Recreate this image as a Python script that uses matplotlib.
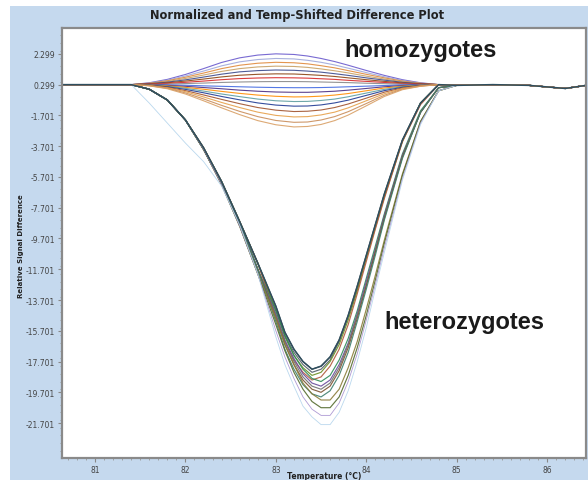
import matplotlib
matplotlib.use('Agg')
import matplotlib.pyplot as plt
from matplotlib.patches import Rectangle
from matplotlib.ticker import MultipleLocator

# ---------------- data ----------------
# homozygote curves sampled on these temperatures
temps = [80.64, 81.0, 81.4, 81.6, 81.8, 82.0, 82.2, 82.4, 82.6, 82.8, 83.0, 83.2,
         83.35, 83.5, 83.65, 83.8, 84.0, 84.2, 84.4, 84.6, 84.8, 85.0, 85.4,
         85.8, 86.2, 86.43]
# heterozygote curves sampled on these temperatures
het_temps = [80.64, 81.0, 81.4, 81.6, 81.8, 82.0, 82.2, 82.4, 82.6, 82.8, 83.0,
             83.1, 83.2, 83.3, 83.4, 83.5, 83.6, 83.7, 83.8, 83.9, 84.0, 84.1,
             84.2, 84.4, 84.6, 84.8, 85.0, 85.4, 85.8, 86.2, 86.43]
left_base = [0.3, 0.3, 0.3]
right_base = [0.25, 0.3, 0.25, 0.05, 0.25]

# heterozygotes: values at 81.6 ... 84.8
het_curves = {
    '#3c3c3c': [0.0, -0.7, -2.0, -3.8, -6.0, -8.6, -11.3, -14.1, -15.8, -16.9, -17.7, -18.2, -18.0, -17.4, -16.3, -14.7, -12.8, -10.8, -8.8, -6.8, -3.3, -0.9, 0.3],
    '#4f5b66': [0.0, -0.7, -2.0, -3.8, -6.0, -8.6, -11.3, -14.3, -16.0, -17.1, -17.9, -18.4, -18.2, -17.6, -16.4, -14.8, -13.0, -10.9, -8.9, -6.9, -3.3, -0.9, 0.3],
    '#6b8e23': [0.0, -0.7, -2.0, -3.8, -6.0, -8.6, -11.3, -14.4, -16.1, -17.3, -18.1, -18.6, -18.4, -17.7, -16.6, -15.0, -13.1, -11.0, -9.0, -7.0, -3.4, -0.9, 0.3],
    '#b05a3c': [0.0, -0.7, -2.0, -3.8, -6.0, -8.6, -11.3, -14.7, -16.4, -17.6, -18.4, -18.9, -18.7, -18.0, -16.9, -15.3, -13.3, -11.2, -9.1, -7.1, -3.4, -1.0, 0.3],
    '#2e8b57': [0.0, -0.7, -2.0, -3.9, -6.1, -8.7, -11.7, -14.4, -16.0, -17.3, -18.2, -18.8, -19.0, -18.6, -17.6, -16.2, -14.4, -12.3, -10.2, -8.1, -4.2, -1.4, 0.1],
    '#6a4c9c': [0.0, -0.7, -2.0, -3.9, -6.1, -8.7, -11.7, -14.6, -16.3, -17.5, -18.5, -19.1, -19.3, -18.9, -17.9, -16.5, -14.6, -12.5, -10.4, -8.2, -4.3, -1.5, 0.1],
    '#707070': [0.0, -0.7, -2.0, -3.9, -6.1, -8.7, -11.7, -14.7, -16.4, -17.7, -18.7, -19.3, -19.5, -19.1, -18.1, -16.6, -14.7, -12.7, -10.5, -8.3, -4.4, -1.5, 0.1],
    '#7a5230': [0.0, -0.7, -2.0, -3.9, -6.1, -8.7, -11.7, -14.9, -16.6, -17.9, -18.9, -19.5, -19.7, -19.3, -18.3, -16.8, -14.9, -12.8, -10.6, -8.4, -4.4, -1.5, 0.1],
    '#3f7f6f': [0.0, -0.7, -2.0, -3.9, -6.1, -8.7, -11.7, -15.1, -16.9, -18.2, -19.2, -19.8, -20.0, -19.6, -18.6, -17.1, -15.1, -13.0, -10.8, -8.5, -4.5, -1.5, 0.1],
    '#8b7d3a': [0.0, -0.7, -2.0, -3.9, -6.2, -8.9, -12.0, -14.9, -16.6, -17.9, -19.1, -19.8, -20.2, -20.2, -19.5, -18.1, -16.4, -14.3, -12.1, -9.8, -5.5, -2.1, -0.1],
    '#556b2f': [0.0, -0.7, -2.0, -3.9, -6.2, -8.9, -12.0, -15.3, -17.0, -18.4, -19.5, -20.3, -20.7, -20.7, -20.0, -18.6, -16.8, -14.7, -12.4, -10.0, -5.6, -2.1, -0.1],
    '#a58fcf': [0.0, -0.7, -2.0, -3.9, -6.2, -8.9, -12.0, -15.7, -17.4, -18.8, -20.0, -20.8, -21.2, -21.2, -20.4, -19.0, -17.2, -15.0, -12.7, -10.3, -5.8, -2.2, -0.1],
    '#b3d4ec': [-0.9, -2.2, -3.5, -4.7, -6.3, -8.8, -12.0, -16.1, -17.9, -19.3, -20.6, -21.3, -21.8, -21.8, -21.0, -19.6, -17.7, -15.5, -13.0, -10.6, -5.9, -2.3, -0.1],
}

# homozygotes: values at 81.6 ... 84.8
homo_curves = {
    '#6a5acd': [0.42, 0.64, 0.96, 1.34, 1.74, 2.04, 2.22, 2.3, 2.26, 2.16, 2.0, 1.8, 1.56, 1.22, 0.9, 0.62, 0.42, 0.3],
    '#9fa8da': [0.40, 0.59, 0.86, 1.18, 1.52, 1.78, 1.93, 2.0, 1.97, 1.88, 1.75, 1.58, 1.37, 1.08, 0.81, 0.57, 0.40, 0.3],
    '#e08a3c': [0.39, 0.55, 0.78, 1.05, 1.34, 1.56, 1.69, 1.75, 1.72, 1.65, 1.53, 1.39, 1.21, 0.97, 0.74, 0.53, 0.39, 0.3],
    '#c8a165': [0.37, 0.50, 0.70, 0.92, 1.16, 1.34, 1.45, 1.5, 1.48, 1.42, 1.32, 1.2, 1.06, 0.85, 0.66, 0.49, 0.37, 0.3],
    '#3b4a8c': [0.36, 0.46, 0.61, 0.79, 0.98, 1.13, 1.21, 1.25, 1.23, 1.18, 1.11, 1.01, 0.90, 0.74, 0.59, 0.45, 0.36, 0.3],
    '#8b4513': [0.34, 0.42, 0.53, 0.66, 0.80, 0.91, 0.97, 1.0, 0.99, 0.95, 0.90, 0.83, 0.74, 0.62, 0.51, 0.41, 0.34, 0.3],
    '#d62728': [0.33, 0.38, 0.45, 0.53, 0.62, 0.69, 0.73, 0.75, 0.74, 0.72, 0.68, 0.64, 0.58, 0.51, 0.44, 0.37, 0.33, 0.3],
    '#888888': [0.31, 0.33, 0.37, 0.40, 0.44, 0.47, 0.49, 0.5, 0.5, 0.49, 0.47, 0.45, 0.43, 0.39, 0.36, 0.33, 0.31, 0.3],
    '#4169e1': [0.29, 0.28, 0.26, 0.22, 0.19, 0.16, 0.13, 0.11, 0.1, 0.1, 0.11, 0.13, 0.16, 0.2, 0.24, 0.28, 0.29, 0.3],
    '#4b2e83': [0.29, 0.25, 0.19, 0.11, 0.03, -0.06, -0.13, -0.18, -0.2, -0.2, -0.17, -0.13, -0.06, 0.05, 0.16, 0.24, 0.28, 0.3],
    '#ff8c00': [0.28, 0.22, 0.12, 0.0, -0.14, -0.27, -0.38, -0.46, -0.5, -0.49, -0.45, -0.38, -0.28, -0.1, 0.08, 0.2, 0.27, 0.3],
    '#5f9ea0': [0.27, 0.19, 0.06, -0.12, -0.31, -0.48, -0.64, -0.75, -0.8, -0.79, -0.73, -0.64, -0.49, -0.25, -0.01, 0.17, 0.26, 0.3],
    '#1f3a93': [0.26, 0.16, -0.01, -0.23, -0.47, -0.69, -0.89, -1.03, -1.1, -1.09, -1.02, -0.89, -0.71, -0.4, -0.09, 0.13, 0.24, 0.3],
    '#a0522d': [0.25, 0.13, -0.09, -0.37, -0.66, -0.94, -1.19, -1.36, -1.45, -1.43, -1.35, -1.19, -0.96, -0.58, -0.19, 0.09, 0.23, 0.3],
    '#e6a04a': [0.24, 0.09, -0.16, -0.5, -0.86, -1.19, -1.49, -1.70, -1.8, -1.78, -1.67, -1.49, -1.21, -0.75, -0.29, 0.05, 0.22, 0.3],
    '#c98d5a': [0.23, 0.06, -0.24, -0.63, -1.05, -1.44, -1.78, -2.03, -2.15, -2.13, -2.0, -1.78, -1.46, -0.93, -0.39, 0.01, 0.2, 0.3],
    '#d9a066': [0.22, 0.03, -0.31, -0.75, -1.21, -1.65, -2.04, -2.31, -2.45, -2.42, -2.29, -2.04, -1.68, -1.08, -0.47, -0.03, 0.19, 0.3],
}

ytick_values = [2.299, 0.299, -1.701, -3.701, -5.701, -7.701, -9.701, -11.701,
                -13.701, -15.701, -17.701, -19.701, -21.701]
ytick_labels = ['2.299', '0.299', '-1.701', '-3.701', '-5.701', '-7.701', '-9.701',
                '-11.701', '-13.701', '-15.701', '-17.701', '-19.701', '-21.701']
xtick_values = [81, 82, 83, 84, 85, 86]

# ---------------- figure ----------------
W, H = 588, 481
fig = plt.figure(figsize=(W / 100, H / 100), dpi=100, facecolor='white')
fig.patches.append(Rectangle((10 / W, 0), 1 - 10 / W, 1 - 7 / H,
                             transform=fig.transFigure, facecolor='#c5d9ee',
                             edgecolor='none', zorder=-10))
ax = fig.add_axes([62 / W, 22 / H, (586 - 62) / W, (459 - 29) / H])
ax.set_zorder(2)
ax.set_facecolor('white')

for color, vals in het_curves.items():
    lw = 0.6 if color in ('#b3d4ec', '#a58fcf') else 0.85
    ax.plot(het_temps, left_base + vals + right_base, color=color, lw=lw, alpha=0.9)
for color, vals in homo_curves.items():
    ax.plot(temps, left_base + vals + right_base, color=color, lw=0.8, alpha=0.9)
# dark baseline band
ax.plot(het_temps, left_base + het_curves['#3c3c3c'] + right_base, color='#2f4f5f', lw=1.1)

ax.set_xlim(80.635, 86.43)
ax.set_ylim(-23.97, 3.98)
ax.set_yticks(ytick_values)
ax.set_yticklabels(ytick_labels)
ax.set_xticks(xtick_values)
ax.set_xticklabels([str(v) for v in xtick_values])
ax.yaxis.set_minor_locator(MultipleLocator(0.5))
ax.xaxis.set_minor_locator(MultipleLocator(0.1))
ax.tick_params(axis='both', which='major', labelsize=5.5, labelcolor='#444444',
               color='#888888', length=3, width=0.8, pad=2)
ax.tick_params(axis='both', which='minor', color='#999999', length=1.5, width=0.6)
for sp in ax.spines.values():
    sp.set_color('#8a8a8a')
    sp.set_linewidth(1.6)

fig.text(297 / W, 1 - 15 / H, 'Normalized and Temp-Shifted Difference Plot',
         ha='center', va='center', fontsize=8.3, fontweight='bold', color='#222222')
fig.text(21 / W, 1 - 246 / H, 'Relative Signal Difference', rotation=90,
         ha='center', va='center', fontsize=5, fontweight='bold', color='#222222')
fig.text(324 / W, 1 - 477 / H, 'Temperature (°C)', ha='center', va='center',
         fontsize=5.5, fontweight='bold', color='#222222')

fig.text(421 / W, 1 - 51 / H, 'homozygotes', ha='center', va='center', zorder=5,
         fontsize=17, fontweight='bold', family='Liberation Sans', color='#1a1a1a')
fig.text(464 / W, 1 - 323 / H, 'heterozygotes', ha='center', va='center', zorder=5,
         fontsize=17, fontweight='bold', family='Liberation Sans', color='#1a1a1a')

fig.savefig('out.png', dpi=100, facecolor=fig.get_facecolor())
